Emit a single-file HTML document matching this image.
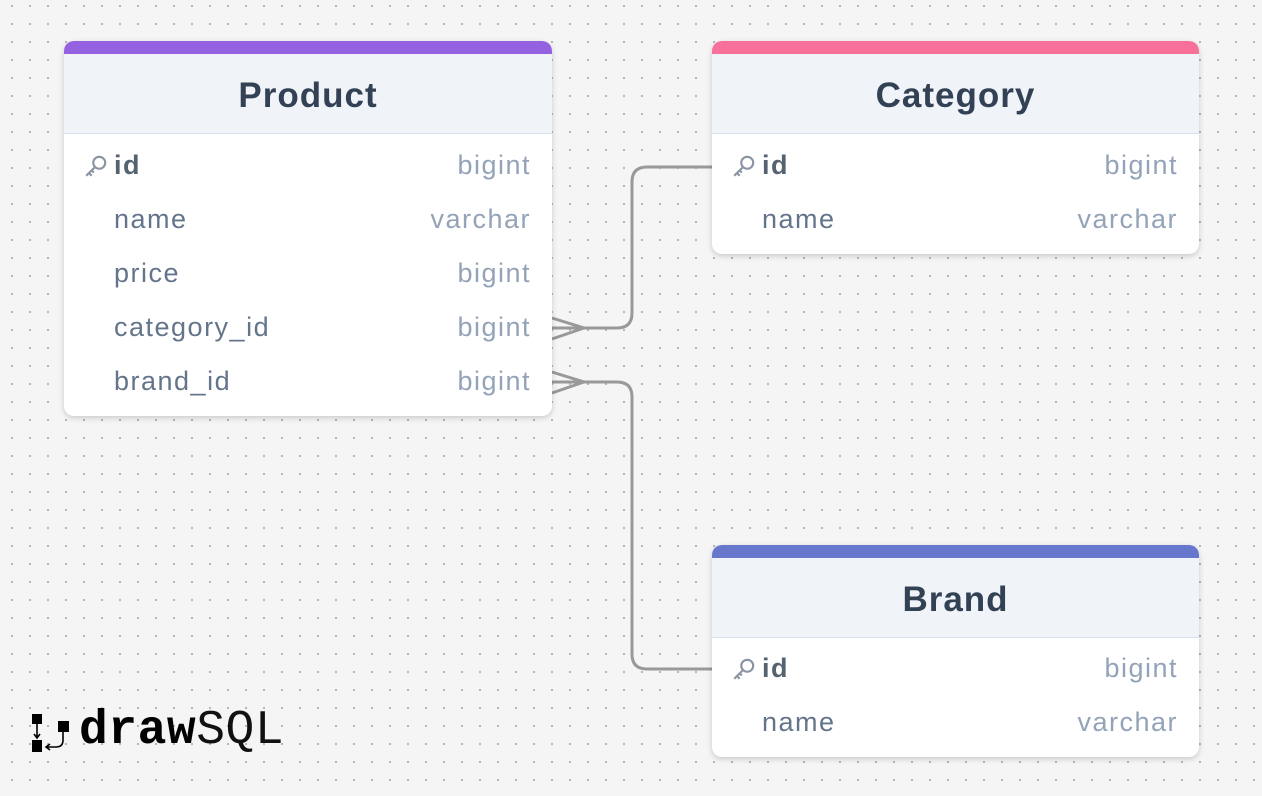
<!DOCTYPE html>
<html><head><meta charset="utf-8"><style>
*{margin:0;padding:0;box-sizing:border-box}
body{width:1262px;height:796px;overflow:hidden;background-color:#f5f5f5;
background-image:radial-gradient(circle,#b4b4b4 1px,transparent 1.3px);
background-size:18px 18px;background-position:3px -3px;
font-family:"Liberation Sans",sans-serif;position:relative}
.t{position:absolute;background:#fff;border-radius:10px;overflow:hidden;
box-shadow:0 2px 6px rgba(0,0,0,.18)}
.bar{height:13px}
.h{height:80px;background:#f0f4f9;border-bottom:1.5px solid #d8e2ee;
text-align:center;font-weight:bold;font-size:35px;letter-spacing:1px;color:#334155;line-height:84px}
.r{height:54px;position:relative;font-size:27px;line-height:54px;letter-spacing:1.5px}
.r .n{position:absolute;left:50px;color:#64748b}
.r .n.b{font-weight:bold;color:#556270}
.r .ty{position:absolute;right:21px;color:#94a3b8}
.k{position:absolute;left:19px;top:15px}
</style></head><body>
<svg width="1262" height="796" style="position:absolute;left:0;top:0">
<g fill="none" stroke="#999" stroke-width="3">
<path d="M552 328 H617 Q632 328 632 313 V182 Q632 167 647 167 H712"/>
<path d="M552 318 L584 328 L552 339"/>
<path d="M552 382 H617 Q632 382 632 397 V654 Q632 669 647 669 H712"/>
<path d="M552 372 L584 382 L552 393"/>
</g>
</svg>

<div class="t" style="left:64px;top:41px;width:488px;height:375px">
<div class="bar" style="background:#9461e0"></div>
<div class="h">Product</div>
<div style="height:4px"></div>
<div class="r"><svg class="k" width="26" height="26" viewBox="0 0 24 24" fill="none" stroke="#8a94a3" stroke-width="2"><circle cx="15" cy="9" r="5.5"/><path d="M11 13 L3 21 M5.5 18.5 L8 21 M8 16 L10 18"/></svg><span class="n b">id</span><span class="ty">bigint</span></div>
<div class="r"><span class="n">name</span><span class="ty">varchar</span></div>
<div class="r"><span class="n">price</span><span class="ty">bigint</span></div>
<div class="r"><span class="n">category_id</span><span class="ty">bigint</span></div>
<div class="r"><span class="n">brand_id</span><span class="ty">bigint</span></div>
</div>

<div class="t" style="left:712px;top:41px;width:487px;height:213px">
<div class="bar" style="background:#f7709a"></div>
<div class="h">Category</div>
<div style="height:4px"></div>
<div class="r"><svg class="k" width="26" height="26" viewBox="0 0 24 24" fill="none" stroke="#8a94a3" stroke-width="2"><circle cx="15" cy="9" r="5.5"/><path d="M11 13 L3 21 M5.5 18.5 L8 21 M8 16 L10 18"/></svg><span class="n b">id</span><span class="ty">bigint</span></div>
<div class="r"><span class="n">name</span><span class="ty">varchar</span></div>
</div>

<div class="t" style="left:712px;top:545px;width:487px;height:212px">
<div class="bar" style="background:#6677cc"></div>
<div class="h">Brand</div>
<div style="height:3px"></div>
<div class="r"><svg class="k" width="26" height="26" viewBox="0 0 24 24" fill="none" stroke="#8a94a3" stroke-width="2"><circle cx="15" cy="9" r="5.5"/><path d="M11 13 L3 21 M5.5 18.5 L8 21 M8 16 L10 18"/></svg><span class="n b">id</span><span class="ty">bigint</span></div>
<div class="r"><span class="n">name</span><span class="ty">varchar</span></div>
</div>

<svg style="position:absolute;left:30px;top:712px" width="42" height="44" viewBox="0 0 42 44">
<rect x="2" y="2" width="10" height="10" fill="#000"/>
<rect x="2" y="28" width="10" height="12" fill="#000"/>
<rect x="28" y="9" width="11" height="11" fill="#000"/>
<path d="M7 12 V25 M4 22 L7 26 L10 22" stroke="#000" stroke-width="1.6" fill="none"/>
<path d="M33 20 V28 Q33 35 26 35 H17 M20 32 L16 35 L20 38" stroke="#000" stroke-width="1.6" fill="none"/>
</svg>
<div style="position:absolute;left:79px;top:702px;font-family:'Liberation Mono',monospace;font-size:48px;line-height:58px;color:#000;letter-spacing:0.5px">
<span style="font-weight:bold">draw</span><span style="font-weight:normal;color:#111">SQL</span></div>
</body></html>
